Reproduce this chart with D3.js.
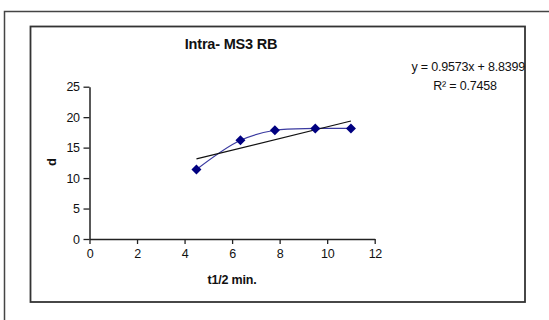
<!DOCTYPE html>
<html>
<head>
<meta charset="utf-8">
<script src="https://cdn.jsdelivr.net/npm/d3@7"></script>
<style>
  html, body { margin: 0; padding: 0; background: #fff; }
  svg { display: block; }
  text { font-family: "Liberation Sans", Arial, sans-serif; fill: #111; }
</style>
</head>
<body>
<svg id="chart" width="549" height="320"></svg>
<script>
// Measured half-life (min) and d values
const halfLife = [4.5, 6.35, 7.8, 9.5, 11.0];
const dValues = [11.4, 16.2, 17.85, 18.15, 18.15];
const xTicks = [0, 2, 4, 6, 8, 10, 12];
const yTicks = [0, 5, 10, 15, 20, 25];
// Linear trendline coefficients
const slope = 0.9573;
const intercept = 8.8399;
const rSquared = 0.7458;

const svg = d3.select("#chart");

// outer page frame (continues past the right and bottom edges)
svg.append("rect")
  .attr("x", 4.5).attr("y", 11.5)
  .attr("width", 560).attr("height", 330)
  .attr("fill", "none").attr("stroke", "#444").attr("stroke-width", 1.5);

// chart area frame
svg.append("rect")
  .attr("x", 30.5).attr("y", 26.5)
  .attr("width", 494.5).attr("height", 275.5)
  .attr("fill", "#fff").attr("stroke", "#333").attr("stroke-width", 1.8);

const x = d3.scaleLinear().domain([0, 12]).range([89.5, 374.7]);
const y = d3.scaleLinear().domain([0, 25]).range([239, 86.7]);

// axes
const xAxis = svg.append("g")
  .attr("transform", `translate(0,${y(0)})`)
  .call(d3.axisBottom(x).tickValues(xTicks).tickSize(5).tickPadding(5).tickSizeOuter(0));
const yAxis = svg.append("g")
  .attr("transform", `translate(${x(0)},0)`)
  .call(d3.axisLeft(y).tickValues(yTicks).tickSize(6).tickPadding(4).tickSizeOuter(0));
[xAxis, yAxis].forEach(g => {
  g.select(".domain").attr("stroke", "#222").attr("stroke-width", 1.5);
  g.selectAll(".tick line").attr("stroke", "#222").attr("stroke-width", 1.3);
  g.selectAll(".tick text")
    .attr("font-family", "Liberation Sans, Arial, sans-serif")
    .attr("font-size", 12.5).attr("letter-spacing", -0.4).attr("fill", "#111");
});

// data series, smoothed
const pts = halfLife.map((v, i) => [v, dValues[i]]);
svg.append("path")
  .datum(pts)
  .attr("fill", "none")
  .attr("stroke", "#3a3aa0")
  .attr("stroke-width", 1.2)
  .attr("d", d3.line().x(d => x(d[0])).y(d => y(d[1])).curve(d3.curveCatmullRom.alpha(0.5)));

// trendline over the data range
const xr = d3.extent(halfLife);
svg.append("line")
  .attr("x1", x(xr[0])).attr("y1", y(slope * xr[0] + intercept))
  .attr("x2", x(xr[1])).attr("y2", y(slope * xr[1] + intercept))
  .attr("stroke", "#111").attr("stroke-width", 1.2);

// diamond markers
const r = 5;
svg.append("g").selectAll("path")
  .data(pts)
  .join("path")
  .attr("transform", d => `translate(${x(d[0])},${y(d[1])})`)
  .attr("d", `M0,${-r}L${r},0L0,${r}L${-r},0Z`)
  .attr("fill", "#000080");

// title
svg.append("text")
  .attr("x", 231).attr("y", 48.5)
  .attr("text-anchor", "middle")
  .attr("font-size", 14.5).attr("font-weight", "bold")
  .attr("letter-spacing", -0.2)
  .text("Intra- MS3 RB");

// axis titles
svg.append("text")
  .attr("x", 232).attr("y", 284)
  .attr("text-anchor", "middle")
  .attr("font-size", 12.5).attr("font-weight", "bold")
  .attr("letter-spacing", -0.2)
  .text("t1/2 min.");
svg.append("text")
  .attr("transform", "translate(56,162) rotate(-90)")
  .attr("text-anchor", "middle")
  .attr("font-size", 13).attr("font-weight", "bold")
  .text("d");

// trendline equation
svg.append("text")
  .attr("x", 525).attr("y", 71)
  .attr("text-anchor", "end")
  .attr("font-size", 12.5).attr("letter-spacing", -0.2)
  .text(`y = ${slope}x + ${intercept}`);
svg.append("text")
  .attr("x", 465).attr("y", 89.5)
  .attr("text-anchor", "middle")
  .attr("font-size", 12.5).attr("letter-spacing", -0.2)
  .text(`R\u00B2 = ${rSquared}`);
</script>
</body>
</html>
